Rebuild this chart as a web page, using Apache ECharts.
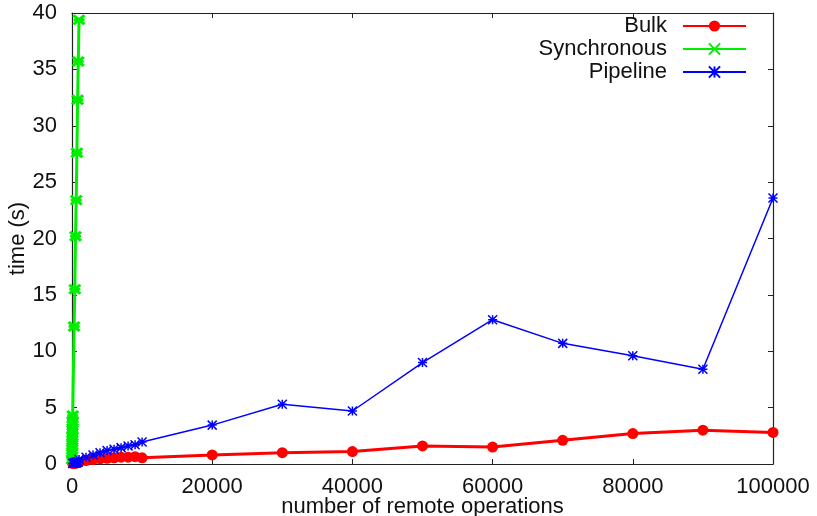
<!DOCTYPE html>
<html><head><meta charset="utf-8">
<script src="https://cdn.jsdelivr.net/npm/echarts@6/dist/echarts.min.js"></script>
<style>html,body{margin:0;padding:0;background:#fff}#c{width:817px;height:516px}</style>
</head><body><div id="c"></div>
<script>
var ops = [100, 200, 300, 400, 500, 600, 700, 800, 900, 1000, 2000, 3000, 4000, 5000, 6000, 7000, 8000, 9000, 10000, 20000, 30000, 40000, 50000, 60000, 70000, 80000, 90000, 100000];
var bulk = [0.05, 0.06, 0.07, 0.08, 0.09, 0.1, 0.11, 0.12, 0.13, 0.15, 0.3, 0.4, 0.45, 0.5, 0.55, 0.6, 0.6, 0.65, 0.55, 0.8, 1.0, 1.1, 1.6, 1.5, 2.1, 2.7, 3.0, 2.8];
var pipeline = [0.05, 0.07, 0.09, 0.1, 0.12, 0.14, 0.16, 0.18, 0.2, 0.4, 0.6, 0.8, 1.0, 1.2, 1.3, 1.45, 1.6, 1.7, 1.95, 3.45, 5.3, 4.7, 9.0, 12.8, 10.7, 9.6, 8.4, 23.6];
var syncOps = [10, 20, 30, 40, 50, 60, 70, 80, 90, 100, 300, 400, 500, 600, 700, 800, 900, 1000];
var sync = [0.4, 0.9, 1.3, 1.7, 2.1, 2.5, 3.0, 3.4, 3.8, 4.3, 12.2, 15.5, 20.2, 23.4, 27.6, 32.3, 35.7, 39.4];
var xTicks = [0, 20000, 40000, 60000, 80000, 100000];
var yTicks = [0, 5, 10, 15, 20, 25, 30, 35, 40];

function pairs(xs, ys) { return xs.map(function (x, i) { return [x, ys[i]]; }); }

var FONT = 'Liberation Sans, Arial, sans-serif';
var FS = 22;
var chart = echarts.init(document.getElementById('c'), null, {renderer: 'canvas'});
var axisLine = {show: true, onZero: false, lineStyle: {color: '#222', width: 1.2}};
var axisTick = {show: true, inside: true, length: 5, lineStyle: {color: '#222'}};
var xCommon = {
  type: 'value', min: xTicks[0], max: xTicks[xTicks.length - 1], interval: xTicks[1] - xTicks[0],
  splitLine: {show: false}, axisLine: axisLine, axisTick: axisTick
};
var yCommon = {
  type: 'value', min: yTicks[0], max: yTicks[yTicks.length - 1], interval: yTicks[1] - yTicks[0],
  splitLine: {show: false}, axisLine: axisLine, axisTick: axisTick
};
function plain(v) { return String(v); }
chart.setOption({
  animation: false,
  backgroundColor: '#fff',
  grid: {left: 72, right: 44, top: 13, bottom: 52, containLabel: false, outerBoundsMode: 'none'},
  legend: {
    orient: 'vertical', right: 65, top: 10, align: 'right',
    itemWidth: 63, itemHeight: 14, itemGap: 1,
    textStyle: {fontFamily: FONT, fontSize: FS, color: '#111', lineHeight: 22, padding: [0, 11, 0, 0]},
    data: ['Bulk', 'Synchronous', 'Pipeline']
  },
  xAxis: [
    Object.assign({}, xCommon, {
      position: 'bottom',
      name: 'number of remote operations', nameLocation: 'middle', nameGap: 32, nameMoveOverlap: false,
      nameTextStyle: {fontFamily: FONT, fontSize: FS, color: '#111'},
      axisLabel: {fontFamily: FONT, fontSize: FS, color: '#111', margin: 12, formatter: plain}
    }),
    Object.assign({}, xCommon, {position: 'top', axisLabel: {show: false}})
  ],
  yAxis: [
    Object.assign({}, yCommon, {
      position: 'left',
      name: 'time (s)', nameLocation: 'middle', nameGap: 43, nameRotate: 90, nameMoveOverlap: false,
      nameTextStyle: {fontFamily: FONT, fontSize: FS, color: '#111'},
      axisLabel: {fontFamily: FONT, fontSize: FS, color: '#111', margin: 15, formatter: plain}
    }),
    Object.assign({}, yCommon, {position: 'right', axisLabel: {show: false}})
  ],
  series: [
    {
      name: 'Bulk', type: 'line', data: pairs(ops, bulk), clip: false,
      symbol: 'circle', symbolSize: 11, showAllSymbol: true,
      lineStyle: {color: '#ff0000', width: 3},
      itemStyle: {color: '#ff0000'}
    },
    {
      name: 'Synchronous', type: 'line', data: pairs(syncOps, sync), clip: false,
      symbol: 'path://M0,0L10,8M10,0L0,8M0,4L10,4', symbolSize: [11, 9], showAllSymbol: true,
      lineStyle: {color: '#00ee00', width: 3},
      itemStyle: {color: '#00ee00', borderColor: '#00ee00', borderWidth: 3}
    },
    {
      name: 'Pipeline', type: 'line', data: pairs(ops, pipeline), clip: false,
      symbol: 'path://M0,0L10,10M10,0L0,10M5,0L5,10M0,5L10,5', symbolSize: 9, showAllSymbol: true,
      lineStyle: {color: '#0000ff', width: 1.5},
      itemStyle: {color: '#0000ff', borderColor: '#0000ff', borderWidth: 1.5}
    }
  ]
});
</script></body></html>
